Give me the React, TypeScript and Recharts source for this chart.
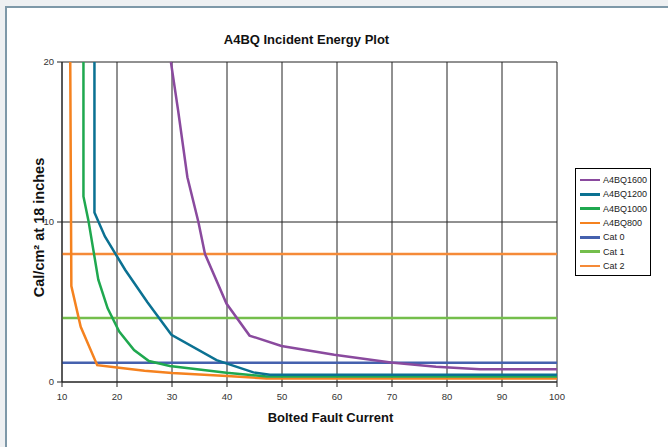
import React from "react";
import { LineChart, Line, XAxis, YAxis, CartesianGrid, Legend } from "recharts";

const xTicks = [10, 20, 30, 40, 50, 60, 70, 80, 90, 100];
const yTicks = [0, 10, 20];

const a4bq1600 = [
  { current: 29.8, energy: 20 },
  { current: 31.1, energy: 17 },
  { current: 32.8, energy: 12.8 },
  { current: 34.8, energy: 10 },
  { current: 36.0, energy: 8.0 },
  { current: 39.9, energy: 4.9 },
  { current: 44.1, energy: 2.9 },
  { current: 49.9, energy: 2.25 },
  { current: 59.5, energy: 1.7 },
  { current: 69.8, energy: 1.22 },
  { current: 78, energy: 0.95 },
  { current: 86, energy: 0.8 },
  { current: 100, energy: 0.8 },
];

const a4bq1200 = [
  { current: 15.9, energy: 20 },
  { current: 15.9, energy: 10.6 },
  { current: 17.8, energy: 9.1 },
  { current: 21.5, energy: 7.0 },
  { current: 25.5, energy: 5.0 },
  { current: 29.9, energy: 2.95 },
  { current: 38.1, energy: 1.37 },
  { current: 44.8, energy: 0.6 },
  { current: 47.8, energy: 0.45 },
  { current: 100, energy: 0.45 },
];

const a4bq1000 = [
  { current: 13.9, energy: 20 },
  { current: 13.9, energy: 11.6 },
  { current: 14.8, energy: 10.1 },
  { current: 16.6, energy: 6.4 },
  { current: 18.3, energy: 4.6 },
  { current: 20.4, energy: 3.15 },
  { current: 23.1, energy: 2.0 },
  { current: 25.8, energy: 1.31 },
  { current: 29.6, energy: 1.0 },
  { current: 39.9, energy: 0.58 },
  { current: 47.2, energy: 0.35 },
  { current: 100, energy: 0.35 },
];

const a4bq800 = [
  { current: 11.5, energy: 20 },
  { current: 11.7, energy: 6.0 },
  { current: 13.4, energy: 3.45 },
  { current: 16.4, energy: 1.05 },
  { current: 20, energy: 0.9 },
  { current: 25, energy: 0.7 },
  { current: 30, energy: 0.56 },
  { current: 40, energy: 0.37 },
  { current: 47.2, energy: 0.22 },
  { current: 100, energy: 0.22 },
];

const cat0 = [
  { current: 10, energy: 1.2 },
  { current: 100, energy: 1.2 },
];
const cat1 = [
  { current: 10, energy: 4 },
  { current: 100, energy: 4 },
];
const cat2 = [
  { current: 10, energy: 8 },
  { current: 100, energy: 8 },
];

const seriesNames = ["A4BQ1600", "A4BQ1200", "A4BQ1000", "A4BQ800", "Cat 0", "Cat 1", "Cat 2"];
const seriesData = [a4bq1600, a4bq1200, a4bq1000, a4bq800, cat0, cat1, cat2];
const seriesColors = ["#8a4a9e", "#0b7192", "#1fa84f", "#f5821f", "#4561ae", "#74be4c", "#f58a38"];

const font = "'Liberation Sans', Arial, sans-serif";

const LegendBox = () => (
  <div
    style={{
      width: 76,
      height: 108,
      border: "1px solid #000",
      background: "#fff",
      fontFamily: font,
      fontSize: 9,
      color: "#222",
      boxSizing: "border-box",
      paddingTop: 4,
    }}
  >
    {seriesNames.map((n, i) => (
      <div key={n} style={{ display: "flex", alignItems: "center", height: 14.3, paddingLeft: 4 }}>
        <div style={{ width: 20, height: 2.5, background: seriesColors[i], marginRight: 3 }} />
        <span>{n}</span>
      </div>
    ))}
  </div>
);

export default function App() {
  const drawOrder = [4, 5, 6, 3, 2, 1, 0];
  return (
    <div
      style={{
        position: "fixed",
        left: 0,
        top: 0,
        width: 668,
        height: 447,
        background: "#eef0f2",
        overflow: "hidden",
      }}
    >
      <div
        style={{
          position: "absolute",
          left: 5,
          top: 6,
          width: 720,
          height: 520,
          border: "2px solid #7e98a8",
          background: "#fff",
        }}
      />
      <div style={{ position: "absolute", left: 0, top: 0 }}>
        <LineChart
          width={668}
          height={447}
          margin={{ top: 62, right: 111, left: 32, bottom: 45 }}
        >
          <CartesianGrid stroke="#222" strokeWidth={1} horizontalValues={yTicks} verticalValues={xTicks} />
          <XAxis
            type="number"
            dataKey="current"
            domain={[10, 100]}
            ticks={xTicks}
            allowDuplicatedCategory={false}
            height={20}
            stroke="#222"
            tickSize={5}
            tickMargin={6}
            tick={{ fontSize: 9.5, fill: "#333", fontFamily: font }}
          />
          <YAxis
            type="number"
            dataKey="energy"
            domain={[0, 20]}
            ticks={yTicks}
            width={30}
            stroke="#222"
            tickSize={5}
            tickMargin={3}
            tick={{ fontSize: 9.5, fill: "#333", fontFamily: font }}
          />
          {drawOrder.map((i) => (
            <Line
              key={seriesNames[i]}
              data={seriesData[i]}
              dataKey="energy"
              name={seriesNames[i]}
              stroke={seriesColors[i]}
              strokeWidth={2.5}
              dot={false}
              activeDot={false}
              type="linear"
              isAnimationActive={false}
            />
          ))}
          <Legend
            layout="vertical"
            align="center"
            verticalAlign="middle"
            content={() => <LegendBox />}
            wrapperStyle={{ left: 575, top: 168, width: 76 }}
          />
        </LineChart>
      </div>
      <svg
        width={668}
        height={447}
        style={{ position: "absolute", left: 0, top: 0, pointerEvents: "none" }}
      >
        <text x={306.5} y={43.5} textAnchor="middle" fontFamily={font} fontWeight="bold" fontSize={13} fill="#111">
          A4BQ Incident Energy Plot
        </text>
        <text x={330.5} y={421.5} textAnchor="middle" fontFamily={font} fontWeight="bold" fontSize={13} fill="#111">
          Bolted Fault Current
        </text>
        <text
          x={0}
          y={0}
          transform="translate(44,227.5) rotate(-90)"
          textAnchor="middle"
          fontFamily={font}
          fontWeight="bold"
          fontSize={14.5}
          fill="#111"
        >
          Cal/cm² at 18 inches
        </text>
      </svg>
    </div>
  );
}
